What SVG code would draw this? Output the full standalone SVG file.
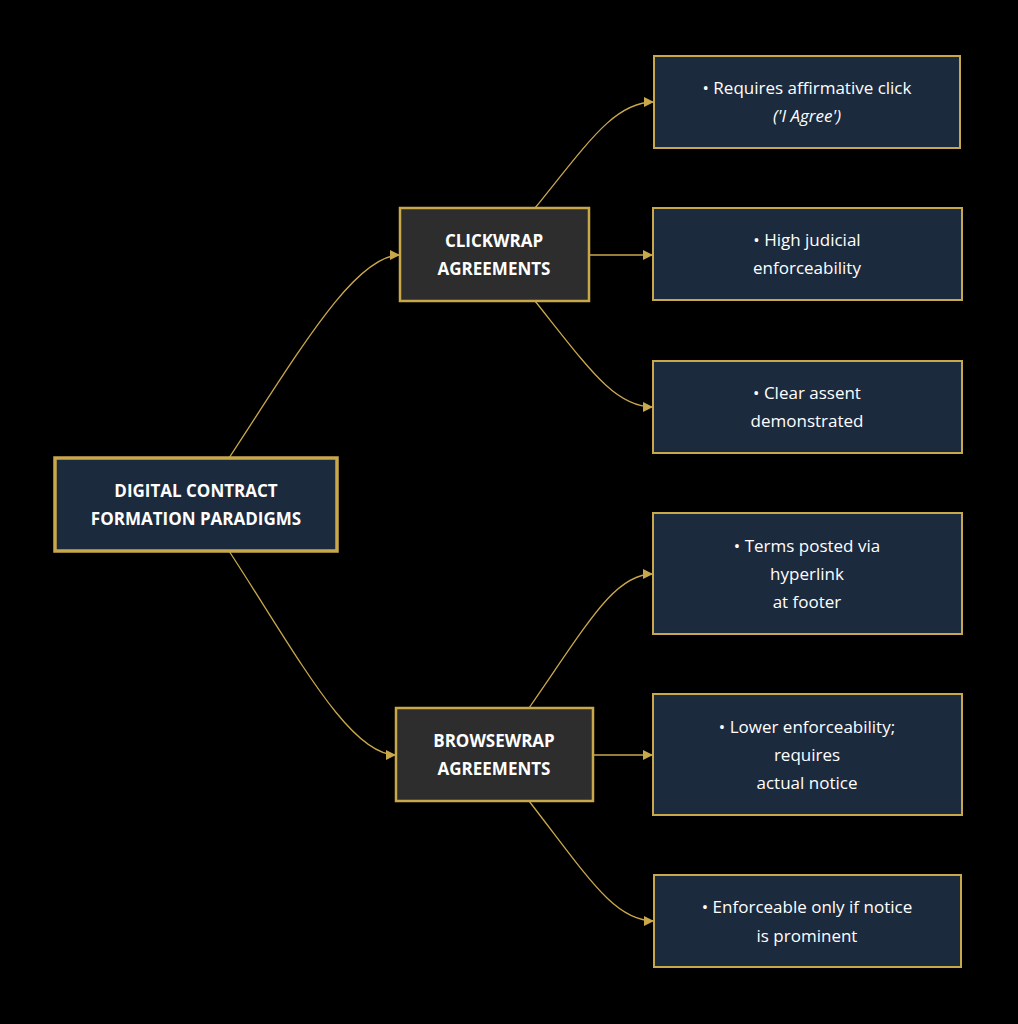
<svg xmlns="http://www.w3.org/2000/svg" width="1018" height="1024" viewBox="0 0 1018 1024">
<style>
.leaf{fill:#1c2a3e;stroke:#c9a84c;stroke-width:2}
.mid{fill:#2d2d2d;stroke:#c9a84c;stroke-width:2.5}
.root{fill:#1c2a3e;stroke:#c9a84c;stroke-width:3.5}
text{font-family:"Open Sans","Noto Sans",sans-serif;fill:#ffffff;font-size:17px;text-anchor:middle}
.b{font-weight:bold;font-size:17px}
.e{fill:none;stroke:#c9a84c;stroke-width:1.3}
</style>
<defs><marker id="a" viewBox="0 0 10 10" refX="10" refY="5" markerWidth="10" markerHeight="10" markerUnits="userSpaceOnUse" orient="auto"><path d="M0,0L10,5L0,10z" fill="#c9a84c"/></marker></defs>
<rect width="1018" height="1024" fill="#000"/>
<g id="edges">
<path class="e" marker-end="url(#a)" d="M229,458 C300,350 355,255 400,255"/>
<path class="e" marker-end="url(#a)" d="M229,551 C300,660 350,755 396,755"/>
<path class="e" marker-end="url(#a)" d="M535,208 C590,140 615,102 654,102"/>
<path class="e" marker-end="url(#a)" d="M589,255 L653,255"/>
<path class="e" marker-end="url(#a)" d="M535,301 C590,370 615,407 653,407"/>
<path class="e" marker-end="url(#a)" d="M529,708 C590,620 615,574 653,574"/>
<path class="e" marker-end="url(#a)" d="M593,755 L653,755"/>
<path class="e" marker-end="url(#a)" d="M529,801 C590,880 615,921 654,921"/>
</g>
<g id="root"><rect class="root" x="55" y="458" width="282" height="93"/><text class="b" x="196" y="497">DIGITAL CONTRACT</text><text class="b" x="196" y="525">FORMATION PARADIGMS</text></g>
<g id="clickwrap"><rect class="mid" x="400" y="208" width="189" height="93"/><text class="b" x="494" y="247">CLICKWRAP</text><text class="b" x="494" y="275">AGREEMENTS</text></g>
<g id="browsewrap"><rect class="mid" x="396" y="708" width="197" height="93"/><text class="b" x="494" y="747">BROWSEWRAP</text><text class="b" x="494" y="775">AGREEMENTS</text></g>
<g id="r1"><rect class="leaf" x="654" y="56" width="306" height="92"/><text x="807" y="94">• Requires affirmative click</text><text x="807" y="122" font-style="italic">('I Agree')</text></g>
<g id="r2"><rect class="leaf" x="653" y="208" width="309" height="92"/><text x="807" y="246">• High judicial</text><text x="807" y="274">enforceability</text></g>
<g id="r3"><rect class="leaf" x="653" y="361" width="309" height="92"/><text x="807" y="399">• Clear assent</text><text x="807" y="427">demonstrated</text></g>
<g id="r4"><rect class="leaf" x="653" y="513" width="309" height="121"/><text x="807" y="552">• Terms posted via</text><text x="807" y="580">hyperlink</text><text x="807" y="608">at footer</text></g>
<g id="r5"><rect class="leaf" x="653" y="694" width="309" height="121"/><text x="807" y="733">• Lower enforceability;</text><text x="807" y="761">requires</text><text x="807" y="789">actual notice</text></g>
<g id="r6"><rect class="leaf" x="654" y="875" width="307" height="92"/><text x="807" y="913">• Enforceable only if notice</text><text x="807" y="942">is prominent</text></g>
</svg>
